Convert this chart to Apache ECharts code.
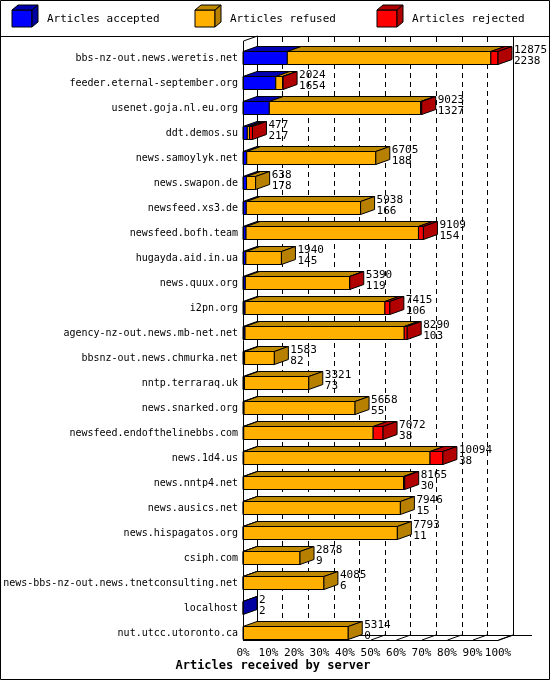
<!DOCTYPE html>
<html><head><meta charset="utf-8">
<script src="https://cdn.jsdelivr.net/npm/echarts@6/dist/echarts.min.js"></script>
<style>html,body{margin:0;padding:0;background:#fff}#c{width:550px;height:680px}</style>
</head><body><div id="c"></div>
<script>
const servers = ["bbs-nz-out.news.weretis.net","feeder.eternal-september.org","usenet.goja.nl.eu.org","ddt.demos.su","news.samoylyk.net","news.swapon.de","newsfeed.xs3.de","newsfeed.bofh.team","hugayda.aid.in.ua","news.quux.org","i2pn.org","agency-nz-out.news.mb-net.net","bbsnz-out.news.chmurka.net","nntp.terraraq.uk","news.snarked.org","newsfeed.endofthelinebbs.com","news.1d4.us","news.nntp4.net","news.ausics.net","news.hispagatos.org","csiph.com","news-bbs-nz-out.news.tnetconsulting.net","localhost","nut.utcc.utoronto.ca"];
const totals   = [12875,2024,9023,477,6705,638,5938,9109,1940,5390,7415,8290,1583,3321,5658,7072,10094,8165,7946,7793,2878,4085,2,5314];
const accepted = [2238,1654,1327,217,188,178,166,154,145,119,106,103,82,73,55,38,38,30,15,11,9,6,2,0];
const refused  = [10277,350,7646,110,6517,460,5772,8705,1795,5261,7059,8037,1501,3248,5603,6534,9406,8075,7931,7782,2869,4079,0,5314];
const rejected = [360,20,50,150,0,0,0,250,0,10,250,150,0,0,0,500,650,60,0,0,0,0,0,0];
const xTicks = ["0%","10%","20%","30%","40%","50%","60%","70%","80%","90%","100%"];

const maxT = Math.max(...totals);
const data = servers.map((s,i)=>[i, accepted[i]/maxT*100, refused[i]/maxT*100, rejected[i]/maxT*100, totals[i], accepted[i]]);
const C = {
  acc:{f:'#0000ff',t:'#0000b0',s:'#0000a0'},
  ref:{f:'#ffb000',t:'#c08a00',s:'#b88000'},
  rej:{f:'#ff0000',t:'#b00000',s:'#b00000'}
};
const DX=14, DY=5, H=13;
const MONO='"DejaVu Sans Mono", monospace';

function renderItem(params, api){
  const i = api.value(0);
  const segs=[[api.value(1),C.acc],[api.value(2),C.ref],[api.value(3),C.rej]];
  const yc = api.coord([0,i])[1];
  const top = yc - H/2;
  const ch=[];
  let cum=0, lastEnd=api.coord([0,i])[0], lastC=null;
  const ls={stroke:'#000',lineWidth:1};
  segs.forEach(([v,col])=>{
    if(v<=0) return;
    const x0=api.coord([cum,i])[0], x1=api.coord([cum+v,i])[0];
    ch.push({type:'rect',shape:{x:x0,y:top,width:Math.max(x1-x0,1),height:H},style:Object.assign({fill:col.f},ls)});
    ch.push({type:'polygon',shape:{points:[[x0,top],[x0+DX,top-DY],[x1+DX,top-DY],[x1,top]]},style:Object.assign({fill:col.t},ls)});
    cum+=v; lastEnd=x1; lastC=col;
  });
  if(lastC){
    ch.push({type:'polygon',shape:{points:[[lastEnd,top],[lastEnd+DX,top-DY],[lastEnd+DX,top+H-DY],[lastEnd,top+H]]},style:Object.assign({fill:lastC.s},ls)});
  }
  const tx=lastEnd+DX+2;
  ch.push({type:'text',style:{text:String(api.value(4)),x:tx,y:top-1,fill:'#000',font:'11px '+MONO,textVerticalAlign:'middle'}});
  ch.push({type:'text',style:{text:String(api.value(5)),x:tx,y:top+10,fill:'#000',font:'11px '+MONO,textVerticalAlign:'middle'}});
  return {type:'group',children:ch};
}

const g=[];
const line=(x1,y1,x2,y2,extra)=>g.push(Object.assign({type:'line',silent:true,shape:{x1,y1,x2,y2},style:{stroke:'#000',lineWidth:1},z:5},extra||{}));
// frame
g.push({type:'rect',shape:{x:0.5,y:0.5,width:549,height:679},style:{fill:'none',stroke:'#000',lineWidth:1},z:1});
line(0,36.5,550,36.5);
// legend
function legBox(x,col,label){
  g.push({type:'rect',shape:{x:x,y:10,width:20,height:17},style:{fill:col.f,stroke:'#000'},z:5});
  g.push({type:'polygon',shape:{points:[[x,10],[x+6,5],[x+26,5],[x+20,10]]},style:{fill:col.t,stroke:'#000'},z:5});
  g.push({type:'polygon',shape:{points:[[x+20,10],[x+26,5],[x+26,22],[x+20,27]]},style:{fill:col.s,stroke:'#000'},z:5});
  g.push({type:'text',style:{text:label,x:x+35,y:19,font:'11px '+MONO,fill:'#000',textVerticalAlign:'middle'},z:5});
}
legBox(12,C.acc,'Articles accepted');
legBox(195,C.ref,'Articles refused');
legBox(377,C.rej,'Articles rejected');
// axes box
line(243.5,41,243.5,640);
line(257.5,36,257.5,635,{z:0});
line(243.5,41,257.5,36);
line(513.5,36,513.5,635,{z:0});
line(243,640.5,498,640.5);
line(498,640.5,513.5,635);
line(257,635.5,532,635.5,{z:0});
for(let k=0;k<=10;k++){const x=243.5+25.5*k; line(x,640,x+DX,635,{z:0});}
g.push({type:'text',style:{text:'Articles received by server',x:273,y:666,font:'bold 12px '+MONO,fill:'#000',align:'center',verticalAlign:'middle'},z:5});

const option={
  animation:false,
  grid:[{left:243,right:52,top:45.5,bottom:34.5},{left:257,right:37,top:37,bottom:45}],
  xAxis:[
    {type:'value',gridIndex:0,min:0,max:100,interval:10,axisLine:{show:false},axisTick:{show:false},splitLine:{show:false},
     axisLabel:{margin:2,color:'#000',fontFamily:MONO,fontSize:11,formatter:(v)=>xTicks[Math.round(v/10)]}},
    {type:'value',gridIndex:1,min:0,max:100,interval:10,axisLine:{show:false},axisTick:{show:false},axisLabel:{show:false},
     splitLine:{show:true,lineStyle:{color:'#000',type:[5,4],width:1}}}
  ],
  yAxis:[
    {type:'category',gridIndex:0,data:servers,inverse:true,axisLine:{show:false},axisTick:{show:false},
     axisLabel:{margin:5,color:'#000',fontFamily:MONO,fontSize:10}},
    {type:'category',gridIndex:1,data:servers,show:false}
  ],
  series:[{type:'custom',xAxisIndex:0,yAxisIndex:0,renderItem,data,z:3,clip:false}],
  graphic:g
};
echarts.init(document.getElementById('c')).setOption(option);
</script></body></html>
